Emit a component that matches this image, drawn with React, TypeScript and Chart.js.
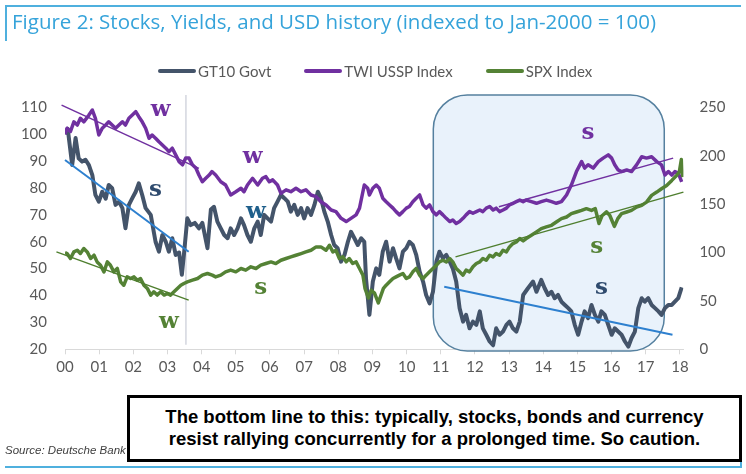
import React, { useEffect, useRef } from "react";
import { Chart, registerables } from "chart.js";

Chart.register(...registerables);

// ---------- DATA ----------
const xTickYears = [2000, 2001, 2002, 2003, 2004, 2005, 2006, 2007, 2008, 2009, 2010, 2011, 2012, 2013, 2014, 2015, 2016, 2017, 2018];

const gt10Years = [
  2000.0, 2000.08, 2000.21, 2000.31, 2000.4, 2000.5, 2000.6, 2000.7, 2000.8, 2000.89,
  2000.99, 2001.09, 2001.19, 2001.28, 2001.38, 2001.48, 2001.58, 2001.68, 2001.77, 2001.87,
  2001.97, 2002.07, 2002.16, 2002.26, 2002.36, 2002.51, 2002.65, 2002.75, 2002.85, 2002.95,
  2003.04, 2003.14, 2003.24, 2003.34, 2003.42, 2003.48, 2003.58, 2003.68, 2003.8, 2003.92,
  2004.02, 2004.17, 2004.27, 2004.36, 2004.46, 2004.56, 2004.66, 2004.76, 2004.85, 2004.95,
  2005.05, 2005.15, 2005.24, 2005.34, 2005.44, 2005.54, 2005.64, 2005.73, 2005.83, 2005.93,
  2006.03, 2006.12, 2006.22, 2006.32, 2006.42, 2006.52, 2006.61, 2006.71, 2006.81, 2006.91,
  2007.0, 2007.1, 2007.2, 2007.3, 2007.4, 2007.49, 2007.59, 2007.69, 2007.79, 2007.88,
  2007.98, 2008.08, 2008.18, 2008.28, 2008.37, 2008.47, 2008.57, 2008.67, 2008.76, 2008.81,
  2008.91, 2009.01, 2009.11, 2009.2, 2009.3, 2009.4, 2009.5, 2009.6, 2009.69, 2009.79,
  2009.89, 2009.99, 2010.08, 2010.18, 2010.28, 2010.38, 2010.48, 2010.57, 2010.67, 2010.77,
  2010.87, 2010.96, 2011.06, 2011.16, 2011.26, 2011.35, 2011.45, 2011.55, 2011.65, 2011.74,
  2011.84, 2011.94, 2012.04, 2012.14, 2012.23, 2012.33, 2012.43, 2012.53, 2012.62, 2012.72,
  2012.82, 2012.92, 2013.01, 2013.11, 2013.21, 2013.31, 2013.41, 2013.55, 2013.7, 2013.8,
  2013.94, 2014.04, 2014.14, 2014.24, 2014.33, 2014.43, 2014.53, 2014.63, 2014.73, 2014.82,
  2014.92, 2015.02, 2015.12, 2015.21, 2015.31, 2015.41, 2015.51, 2015.61, 2015.7, 2015.8,
  2015.9, 2016.0, 2016.09, 2016.19, 2016.29, 2016.39, 2016.49, 2016.58, 2016.68, 2016.78,
  2016.88, 2016.97, 2017.07, 2017.17, 2017.27, 2017.37, 2017.46, 2017.56, 2017.66, 2017.76,
  2017.85, 2017.95, 2018.05,
];
const gt10Values = [
  100, 102, 88.5, 98.6, 91, 89.8, 90.5, 88.5, 84.8, 77.4,
  74.9, 78.6, 76, 81.1, 79.9, 73.7, 74.9, 72.5, 65, 73.7,
  76.2, 78.6, 81.7, 77.4, 72.5, 70, 60, 56.3, 62.5, 60,
  56.3, 61.3, 55.1, 56, 47.7, 55.1, 68.7, 66.2, 67, 65,
  67, 57.6, 72, 73, 67.5, 65, 62.5, 61.3, 65, 62.5,
  65, 68.7, 66.2, 62.5, 60, 65, 67.5, 62.5, 70, 68.7,
  67.5, 72.5, 74.9, 77.4, 76.2, 74.9, 71.2, 73.7, 70, 72.5,
  68.7, 72.5, 70, 73.7, 78.6, 76.2, 71.2, 67.5, 62.5, 58.8,
  57.6, 52.6, 55.1, 60, 63.7, 61.3, 58.8, 61.3, 60, 46.4,
  32.8, 45.2, 50.1, 47.7, 56.3, 60, 52.6, 57.6, 53.9, 50.1,
  56.3, 57.6, 60, 58.8, 55.1, 48.9, 45.2, 40.2, 37.1, 41.4,
  52.6, 56.3, 53.9, 55.1, 52.6, 50.1, 45.2, 35.3, 30.3, 32.8,
  27.8, 30.3, 29.1, 34.1, 27.8, 25.4, 22.9, 21.5, 27.8, 25.4,
  26.6, 29.1, 30.3, 27.8, 26.6, 30.3, 40.2, 42.7, 45.2, 41.4,
  45.8, 42.7, 40.2, 41.4, 39, 40.2, 37.7, 36.5, 35.3, 34.1,
  29.1, 25.4, 30.3, 34.1, 31.6, 36.5, 32.8, 30.3, 34.1, 32.8,
  29.1, 25.4, 27.8, 26.6, 25.4, 22.9, 21, 24.1, 26.6, 35.3,
  39, 37.7, 39, 36.5, 35.3, 34.1, 32.8, 35.3, 36.5, 36.5,
  37.7, 39, 43,
];

const twiYears = [
  2000.0, 2000.06, 2000.16, 2000.26, 2000.36, 2000.45, 2000.55, 2000.7, 2000.8, 2000.89,
  2000.99, 2001.09, 2001.19, 2001.28, 2001.38, 2001.48, 2001.58, 2001.68, 2001.77, 2001.87,
  2001.97, 2002.07, 2002.16, 2002.26, 2002.36, 2002.46, 2002.55, 2002.65, 2002.75, 2002.85,
  2002.95, 2003.04, 2003.14, 2003.24, 2003.34, 2003.44, 2003.53, 2003.63, 2003.73, 2003.83,
  2003.92, 2004.02, 2004.12, 2004.22, 2004.3, 2004.41, 2004.56, 2004.7, 2004.85, 2005.0,
  2005.15, 2005.24, 2005.34, 2005.49, 2005.64, 2005.78, 2005.88, 2005.98, 2006.08, 2006.22,
  2006.32, 2006.47, 2006.61, 2006.76, 2006.91, 2007.05, 2007.2, 2007.35, 2007.49, 2007.64,
  2007.79, 2007.93, 2008.08, 2008.23, 2008.37, 2008.52, 2008.62, 2008.76, 2008.86, 2008.91,
  2009.01, 2009.11, 2009.2, 2009.3, 2009.4, 2009.5, 2009.6, 2009.69, 2009.79, 2009.89,
  2009.99, 2010.08, 2010.18, 2010.28, 2010.38, 2010.48, 2010.57, 2010.67, 2010.77, 2010.87,
  2010.96, 2011.06, 2011.16, 2011.26, 2011.35, 2011.45, 2011.55, 2011.65, 2011.74, 2011.84,
  2011.94, 2012.04, 2012.14, 2012.23, 2012.33, 2012.43, 2012.53, 2012.62, 2012.72, 2012.82,
  2012.92, 2013.01, 2013.11, 2013.21, 2013.31, 2013.41, 2013.5, 2013.65, 2013.8, 2013.94,
  2014.09, 2014.24, 2014.38, 2014.53, 2014.68, 2014.82, 2014.97, 2015.12, 2015.21, 2015.31,
  2015.46, 2015.61, 2015.75, 2015.9, 2016.0, 2016.09, 2016.19, 2016.29, 2016.44, 2016.58,
  2016.73, 2016.88, 2017.02, 2017.17, 2017.32, 2017.46, 2017.56, 2017.66, 2017.76, 2017.85,
  2017.95, 2018.05,
];
const twiValues = [
  100, 102.2, 101, 104.6, 103.4, 105.9, 104.6, 107.1, 109, 105.9,
  99.7, 102.2, 103.4, 104.6, 103.4, 102.2, 103.4, 104.6, 103.4, 105.9,
  107.1, 108.4, 106.5, 104.6, 102.2, 98.5, 99.7, 98.5, 97.2, 96,
  94.8, 93.5, 94.8, 92.3, 89.8, 88.6, 91.1, 91.1, 88.6, 87.4,
  84.8, 82.3, 83.6, 84.8, 86.1, 84.8, 82.3, 81.1, 77.4, 78.6,
  79.9, 78.6, 81.1, 83.6, 81.1, 83.6, 84.2, 82.3, 83, 81.1,
  78, 79.3, 78.6, 79.9, 78.6, 79.3, 77.4, 76.8, 74.9, 73.7,
  71.8, 71.2, 68.7, 67.5, 68.7, 70, 72.5, 81.1, 79.9, 77.4,
  79.9, 81.1, 79.9, 76.2, 74.9, 73.7, 72.5, 71.2, 70, 71.2,
  72.5, 73.1, 74.9, 76.2, 77.4, 73.7, 72.5, 73.7, 71.2, 70,
  71.2, 70, 68.7, 67.5, 68.1, 66.8, 67.5, 68.7, 70, 71.2,
  70.6, 71.2, 71.8, 71.2, 72.5, 73.1, 71.8, 72.5, 71.2, 71.8,
  72.5, 73.7, 74.3, 74.9, 75.5, 74.9, 75.5, 74.9, 74.3, 74.9,
  75.5, 74.9, 74.3, 74.9, 77.4, 81.1, 86.1, 89.8, 87.4, 88.6,
  87.4, 89.8, 91.1, 92.3, 91.1, 88.6, 86.7, 86.1, 86.7, 86.1,
  88.6, 91.6, 91.1, 91.6, 89.8, 88.6, 84.8, 86.1, 84.8, 86.1,
  85.5, 82.3,
];

const spxYears = [
  2000.0, 2000.06, 2000.16, 2000.26, 2000.36, 2000.45, 2000.55, 2000.65, 2000.75, 2000.85,
  2000.94, 2001.04, 2001.14, 2001.24, 2001.33, 2001.43, 2001.53, 2001.63, 2001.72, 2001.82,
  2001.92, 2002.02, 2002.12, 2002.21, 2002.31, 2002.41, 2002.51, 2002.6, 2002.7, 2002.8,
  2002.9, 2003.0, 2003.09, 2003.19, 2003.29, 2003.39, 2003.48, 2003.58, 2003.73, 2003.88,
  2004.02, 2004.17, 2004.31, 2004.41, 2004.56, 2004.7, 2004.85, 2005.0, 2005.15, 2005.29,
  2005.44, 2005.59, 2005.73, 2005.88, 2006.03, 2006.17, 2006.32, 2006.47, 2006.61, 2006.76,
  2006.91, 2007.05, 2007.2, 2007.35, 2007.49, 2007.64, 2007.74, 2007.84, 2007.93, 2008.03,
  2008.13, 2008.23, 2008.32, 2008.42, 2008.52, 2008.62, 2008.72, 2008.78, 2008.88, 2008.96,
  2009.06, 2009.17, 2009.25, 2009.32, 2009.4, 2009.5, 2009.6, 2009.69, 2009.79, 2009.89,
  2009.99, 2010.08, 2010.18, 2010.28, 2010.38, 2010.48, 2010.57, 2010.67, 2010.77, 2010.87,
  2010.96, 2011.06, 2011.16, 2011.26, 2011.35, 2011.45, 2011.55, 2011.65, 2011.74, 2011.84,
  2011.94, 2012.04, 2012.14, 2012.23, 2012.33, 2012.43, 2012.53, 2012.62, 2012.72, 2012.82,
  2012.92, 2013.01, 2013.11, 2013.21, 2013.31, 2013.41, 2013.5, 2013.65, 2013.8, 2013.94,
  2014.09, 2014.24, 2014.38, 2014.53, 2014.68, 2014.82, 2014.97, 2015.12, 2015.26, 2015.41,
  2015.52, 2015.63, 2015.72, 2015.85, 2015.95, 2016.08, 2016.18, 2016.29, 2016.44, 2016.58,
  2016.73, 2016.88, 2017.02, 2017.17, 2017.32, 2017.46, 2017.61, 2017.76, 2017.9, 2017.98,
  2018.04, 2018.08,
];
const spxValues = [
  100, 99, 93.8, 100.6, 102.3, 99, 104.1, 100.6, 93.8, 97.2,
  90.3, 86.9, 80, 90.3, 86.9, 80, 83.5, 69.7, 66.2, 74.8,
  73.1, 74.8, 71.4, 73.1, 66.2, 62.9, 56, 59.4, 56, 59.4,
  56, 57.7, 56, 59.4, 62.9, 66.2, 68, 69.7, 71.4, 73.1,
  76.6, 78.3, 76.6, 74.8, 76.6, 80, 81.8, 80, 83.5, 81.8,
  85.2, 83.5, 86.9, 88.6, 90.3, 88.6, 92, 93.8, 95.5, 97.2,
  98.9, 100.6, 102.3, 105.8, 105.8, 102.3, 107.5, 100.6, 102.3, 93.8,
  95.5, 90.3, 93.8, 88.6, 90.3, 83.5, 76.6, 63, 53, 61,
  58, 48, 56, 62.9, 66.2, 69.7, 73.1, 74.8, 76.6, 78.3,
  73.1, 74.8, 80, 83.5, 76.6, 73.1, 76.6, 80, 83.5, 86.9,
  90.3, 92, 90.3, 93.8, 90.3, 83.5, 80, 76.6, 81.8, 80,
  85.2, 88.6, 90.3, 93.8, 92, 97.2, 95.5, 98.9, 97.2, 102.3,
  100.6, 105.8, 109.2, 110.9, 114.4, 112, 114.4, 117.8, 121.3, 124.7,
  126.4, 128.1, 131.5, 135, 136.7, 140.1, 141.8, 143.5, 145.3, 143.5,
  145.3, 130, 138, 142, 138, 127, 135, 140.1, 141.8, 143.5,
  146.9, 148.7, 152.1, 159, 162.4, 165.9, 169.3, 174.5, 179.6, 183,
  196, 178,
];

// Trend lines (start/end)
const twiTrend1 = [[1999.9, 110.8], [2003.92, 87.3]];
const gt10Trend1 = [[2000.0, 90.4], [2003.62, 56.3]];
const spxTrend1 = [[1999.75, 100.6], [2003.62, 50.8]];
const twiTrend2 = [[2012.7, 73], [2017.8, 91.1]];
const spxTrend2 = [[2011.43, 95.5], [2018.1, 162.4]];
const gt10Trend2 = [[2011.1, 43.3], [2017.78, 25.4]];

// Strength labels: text, year, left-axis value, colour
const letterText = ["w", "s", "w", "w", "w", "s", "s", "s", "s"];
const letterYears = [2002.8, 2002.65, 2003.04, 2005.49, 2005.59, 2005.73, 2015.31, 2015.56, 2015.7];
const letterValues = [109, 79.3, 30.3, 91.6, 71.2, 42.7, 100.3, 58.2, 42.9];
const letterColors = ["#7030a0", "#2f4b6e", "#548235", "#7030a0", "#1f5f8b", "#548235", "#7030a0", "#548235", "#2f4b6e"];

// Highlight box and divider (data coordinates)
const highlightX = [2010.78, 2017.54];
const highlightY = [19.4, 114.6];
const dividerYear = 2003.54;
const dividerY = [21.7, 114.6];

const legendLabels = ["GT10 Govt", "TWI USSP Index", "SPX Index"];
const seriesColors = ["#44546a", "#7030a0", "#548235"];

// ---------- HELPERS ----------
const toPoints = (xs: number[], ys: number[]) => xs.map((x, i) => ({ x, y: ys[i] }));
const pairPoints = (p: number[][]) => p.map(([x, y]) => ({ x, y }));

const TICK_FONT = { family: "Lato, 'Open Sans', sans-serif", size: 15 };

const overlayPlugin = {
  id: "overlayPlugin",
  beforeDatasetsDraw(chart: any) {
    const { ctx, scales } = chart;
    const x = scales.x;
    const y = scales.yL;
    const x0 = x.getPixelForValue(highlightX[0]);
    const x1 = x.getPixelForValue(highlightX[1]);
    const yTop = y.getPixelForValue(highlightY[1]);
    const yBot = y.getPixelForValue(highlightY[0]);
    ctx.save();
    ctx.beginPath();
    ctx.roundRect(x0, yTop, x1 - x0, yBot - yTop, 34);
    ctx.fillStyle = "rgba(223,236,249,0.7)";
    ctx.fill();
    ctx.lineWidth = 1.5;
    ctx.strokeStyle = "#55809f";
    ctx.stroke();
    // divider
    const dx = x.getPixelForValue(dividerYear);
    ctx.beginPath();
    ctx.moveTo(dx, y.getPixelForValue(dividerY[1]));
    ctx.lineTo(dx, y.getPixelForValue(dividerY[0]));
    ctx.lineWidth = 1.2;
    ctx.strokeStyle = "#c8cbd6";
    ctx.stroke();
    ctx.restore();
  },
  afterDatasetsDraw(chart: any) {
    const { ctx, scales } = chart;
    ctx.save();
    ctx.font = "bold 23px 'DejaVu Serif', serif";
    ctx.textAlign = "center";
    ctx.textBaseline = "middle";
    letterText.forEach((t, i) => {
      ctx.fillStyle = letterColors[i];
      ctx.fillText(t, scales.x.getPixelForValue(letterYears[i]), scales.yL.getPixelForValue(letterValues[i]));
    });
    ctx.restore();
  },
};

export default function App() {
  const canvasRef = useRef<HTMLCanvasElement>(null);

  useEffect(() => {
    const line = (label: string, data: any[], color: string, width: number, axis: string, order: number, clip = true) => ({
      label,
      data,
      borderColor: color,
      backgroundColor: color,
      borderWidth: width,
      pointRadius: 0,
      tension: 0,
      yAxisID: axis,
      order,
      clip: clip ? undefined : false,
      borderJoinStyle: "round",
    });

    const chart = new Chart(canvasRef.current as HTMLCanvasElement, {
      type: "line",
      data: {
        datasets: [
          line("twiTrend1", pairPoints(twiTrend1), "#7030a0", 1.5, "yL", 0, false),
          line("gt10Trend1", pairPoints(gt10Trend1), "#2e80cf", 2, "yL", 0, false),
          line("spxTrend1", pairPoints(spxTrend1), "#4f7f2f", 1.5, "yR", 0, false),
          line("twiTrend2", pairPoints(twiTrend2), "#7030a0", 1.5, "yL", 0, false),
          line("spxTrend2", pairPoints(spxTrend2), "#4f7f2f", 1.5, "yR", 0, false),
          line("gt10Trend2", pairPoints(gt10Trend2), "#2e80cf", 2, "yL", 0, false),
          line(legendLabels[2], toPoints(spxYears, spxValues), seriesColors[2], 3.5, "yR", 1),
          line(legendLabels[1], toPoints(twiYears, twiValues), seriesColors[1], 3.5, "yL", 2),
          line(legendLabels[0], toPoints(gt10Years, gt10Values), seriesColors[0], 4, "yL", 3),
        ] as any,
      },
      options: {
        responsive: false,
        animation: false,
        layout: { padding: { top: 107.3, left: 15, right: 17.6, bottom: 94.7 } },
        plugins: {
          legend: { display: false },
          tooltip: { enabled: false },
          title: { display: false },
        },
        scales: {
          x: {
            type: "linear",
            min: 2000,
            max: 2018.1,
            afterFit: (s: any) => {
              s.height = 30;
            },
            afterBuildTicks: (s: any) => {
              s.ticks = xTickYears.map((v) => ({ value: v }));
            },
            ticks: {
              autoSkip: false,
              maxRotation: 0,
              padding: 4,
              color: "#595959",
              font: TICK_FONT,
              callback: (v: any) => String(Math.round(Number(v)) - 2000).padStart(2, "0"),
            },
            grid: { drawOnChartArea: false, drawTicks: true, tickLength: 5, color: "#d9d9d9" },
            border: { display: true, color: "#d9d9d9", width: 1 },
          },
          yL: {
            type: "linear",
            position: "left",
            min: 20,
            max: 110,
            afterFit: (s: any) => {
              s.width = 50;
            },
            ticks: { stepSize: 10, padding: 18, color: "#595959", font: TICK_FONT },
            grid: { display: false, drawTicks: false },
            border: { display: false },
          },
          yR: {
            type: "linear",
            position: "right",
            min: 0,
            max: 250,
            afterFit: (s: any) => {
              s.width = 45;
            },
            ticks: { stepSize: 50, padding: 16, color: "#595959", font: TICK_FONT },
            grid: { display: false, drawTicks: false },
            border: { display: false },
          },
        },
      } as any,
      plugins: [overlayPlugin],
    });
    return () => chart.destroy();
  }, []);

  const blue = "#4fb0de";

  return (
    <div style={{ position: "absolute", left: 0, top: 0, width: 746, height: 474, background: "#fff", overflow: "hidden" }}>
      <canvas ref={canvasRef} width={746} height={474} style={{ position: "absolute", left: 0, top: 0 }} />
      {/* frame lines */}
      <div style={{ position: "absolute", left: 5, top: 5, width: 736, borderTop: `2px solid ${blue}` }} />
      <div style={{ position: "absolute", left: 5, top: 5, height: 36, borderLeft: `2px solid ${blue}` }} />
      <div style={{ position: "absolute", left: 5, top: 466, width: 737, borderTop: `2px solid ${blue}` }} />
      <div style={{ position: "absolute", left: 740, top: 450, height: 18, borderLeft: `2px solid ${blue}` }} />
      {/* title */}
      <div
        style={{
          position: "absolute",
          left: 12,
          top: 9,
          fontFamily: "'Open Sans', sans-serif",
          fontSize: 20.5,
          lineHeight: "24px",
          color: "#35a3da",
          whiteSpace: "nowrap",
        }}
      >
        Figure 2: Stocks, Yields, and USD history (indexed to Jan-2000 = 100)
      </div>
      {/* legend */}
      <div
        style={{
          position: "absolute",
          left: 158,
          top: 62,
          height: 18,
          display: "flex",
          alignItems: "center",
          fontFamily: "Lato, sans-serif",
          fontSize: 15,
          color: "#595959",
          whiteSpace: "nowrap",
        }}
      >
        {legendLabels.map((l, i) => (
          <div key={l} style={{ display: "flex", alignItems: "center", marginRight: 33 }}>
            <span style={{ display: "inline-block", width: 38, height: 4, borderRadius: 2, background: seriesColors[i], marginRight: 2 }} />
            <span>{l}</span>
          </div>
        ))}
      </div>
      {/* source */}
      <div
        style={{
          position: "absolute",
          left: 5,
          top: 444,
          fontFamily: "'Liberation Sans', Arial, sans-serif",
          fontStyle: "italic",
          fontSize: 11.5,
          color: "#404040",
          whiteSpace: "nowrap",
        }}
      >
        Source: Deutsche Bank
      </div>
      {/* note box */}
      <div
        style={{
          position: "absolute",
          left: 127,
          top: 395,
          width: 615,
          height: 67,
          boxSizing: "border-box",
          border: "3px solid #000",
          background: "#fff",
          fontFamily: "'Liberation Sans Narrow', 'Arial Narrow', 'Liberation Sans', sans-serif",
          fontWeight: "bold",
          fontSize: 18.5,
          lineHeight: "22px",
          color: "#000",
          textAlign: "center",
          paddingTop: 8,
        }}
      >
        The bottom line to this: typically, stocks, bonds and currency
        <br />
        resist rallying concurrently for a prolonged time. So caution.
      </div>
    </div>
  );
}
